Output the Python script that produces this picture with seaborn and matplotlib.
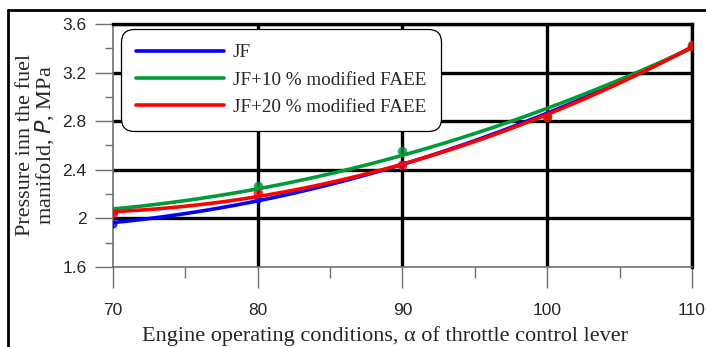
import matplotlib
matplotlib.use("Agg")
import matplotlib.pyplot as plt
from matplotlib.lines import Line2D
import seaborn as sns
import numpy as np

# ---- data ----
alpha = [70, 80, 90, 100, 110]
p_jf = [1.955, 2.16, 2.45, 2.84, 3.42]
p_jf10 = [2.06, 2.265, 2.55, 2.84, 3.43]
p_jf20 = [2.04, 2.21, 2.44, 2.83, 3.42]
series_names = ["JF", "JF+10 % modified FAEE", "JF+20 % modified FAEE"]
x_ticks = [70, 80, 90, 100, 110]
y_ticks = [1.6, 2.0, 2.4, 2.8, 3.2, 3.6]
y_tick_labels = ["1.6", "2", "2.4", "2.8", "3.2", "3.6"]

sns.set_style("white")
plt.rcParams["font.family"] = ["Liberation Serif", "DejaVu Serif"]

fig = plt.figure(figsize=(7.06, 3.47), dpi=100)
ax = fig.add_axes([0.160, 0.231, 0.820, 0.700])

colors = ["#0000ff", "#009a3a", "#ff0000"]
markers = ["D", "o", "^"]
msizes = [34, 48, 48]
for ys, c, m, s in zip([p_jf, p_jf10, p_jf20], colors, markers, msizes):
    sns.regplot(x=alpha, y=ys, order=2, ci=None, truncate=True, ax=ax,
                scatter_kws=dict(color=c, marker=m, s=s, zorder=4, linewidths=0),
                line_kws=dict(color=c, lw=2.6, zorder=5))

ax.set_xlim(70, 110)
ax.set_ylim(1.6, 3.6)
ax.set_xticks(x_ticks)
ax.set_xticks([75, 85, 95, 105], minor=True)
ax.set_yticks(y_ticks)
ax.set_yticklabels(y_tick_labels)
ax.set_yticks([1.8, 2.2, 2.6, 3.0, 3.4], minor=True)

for lab in ax.get_xticklabels() + ax.get_yticklabels():
    lab.set_family(["Liberation Sans", "DejaVu Sans"])
    lab.set_fontsize(12.5)

ax.tick_params(axis="y", which="major", direction="out", length=13, width=1,
               color="#707070", pad=6, left=True)
ax.tick_params(axis="y", which="minor", direction="out", length=6, width=1,
               color="#707070", left=True)
ax.tick_params(axis="x", which="major", direction="out", length=15, width=1,
               color="#707070", pad=11, bottom=True)
ax.tick_params(axis="x", which="minor", direction="out", length=8, width=1,
               color="#707070", bottom=True)

ax.grid(True, which="major", color="black", lw=2.4)
ax.set_axisbelow(True)
ax.get_xgridlines()[0].set_visible(False)
ax.get_ygridlines()[0].set_visible(False)

for side in ["left", "bottom"]:
    ax.spines[side].set_color("#707070")
    ax.spines[side].set_linewidth(1.2)
for side in ["top", "right"]:
    ax.spines[side].set_color("black")
    ax.spines[side].set_linewidth(2.4)

ax.set_xlabel("Engine operating conditions, α of throttle control lever",
              fontsize=16)
ax.xaxis.set_label_coords(0.47, -0.285, transform=ax.transAxes)
ax.xaxis.label.set_va("center")
ax.set_ylabel("Pressure inn the fuel\nmanifold, $\\mathit{P}$, MPa",
              fontsize=16, linespacing=0.9)
ax.yaxis.set_label_coords(-0.133, 0.5, transform=ax.transAxes)
ax.yaxis.label.set_va("center")

handles = [Line2D([], [], color=c, lw=2.6) for c in colors]
leg = ax.legend(handles, series_names, loc="upper left",
                bbox_to_anchor=(0.014, 0.979), borderaxespad=0, fontsize=13.8,
                handlelength=4.6, handletextpad=0.45, labelspacing=0.52,
                borderpad=0.78, frameon=True, fancybox=True, framealpha=1)
leg.get_frame().set_edgecolor("black")
leg.get_frame().set_linewidth(0.9)
leg.get_frame().set_boxstyle("round", pad=0, rounding_size=0.7)
leg.set_zorder(10)

# outer frame
fig.add_artist(Line2D([0.0113, 0.0113], [0.971, 0.0], color="black", lw=2,
                      transform=fig.transFigure))
fig.add_artist(Line2D([0.0113, 1.0], [0.971, 0.971], color="black", lw=2,
                      transform=fig.transFigure))

fig.savefig("out.png", dpi=100)
